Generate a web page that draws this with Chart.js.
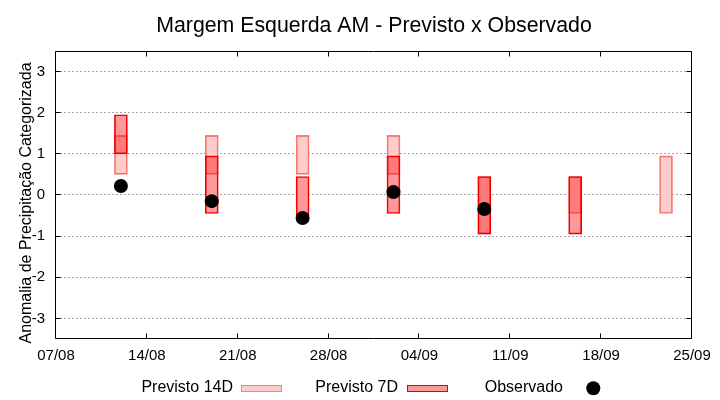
<!DOCTYPE html>
<html>
<head>
<meta charset="utf-8">
<script src="https://cdn.jsdelivr.net/npm/chart.js@4"></script>
<style>
  html, body { margin: 0; padding: 0; background: #ffffff; }
  canvas { display: block; }
</style>
</head>
<body>
<canvas id="c" width="720" height="400"></canvas>
<script>
// ---- data ----
const chartTitle = 'Margem Esquerda AM - Previsto x Observado';
const yAxisTitle = 'Anomalia de Precipitação Categorizada';
const dates = ['12/08', '19/08', '26/08', '02/09', '09/09', '16/09', '23/09'];
const prev14Low  = [0.5, 0.5, 0.5, 0.5, -0.95, -0.45, -0.45];
const prev14High = [1.45, 1.45, 1.45, 1.45, 0.45, 0.45, 0.95];
const prev7Low   = [1.0, -0.45, -0.5, -0.45, -0.95, -0.95, null];
const prev7High  = [1.95, 0.95, 0.45, 0.95, 0.45, 0.45, null];
const observed   = [0.22, -0.15, -0.56, 0.07, -0.34, null, null];
const xTickLabels = ['07/08', '14/08', '21/08', '28/08', '04/09', '11/09', '18/09', '25/09'];
const yTickValues = [-3, -2, -1, 0, 1, 2, 3];
const seriesNames = ['Previsto 14D', 'Previsto 7D', 'Observado'];

// ---- helpers ----
const FONT = '"Liberation Sans", Arial, sans-serif';
function dayIndex(s) {
  const [d, m] = s.split('/').map(Number);
  return Math.round((Date.UTC(2023, m - 1, d) - Date.UTC(2023, 7, 7)) / 864e5);
}
function ranges(lo, hi) {
  const out = [];
  dates.forEach((d, i) => { if (lo[i] !== null && hi[i] !== null) out.push({ x: dayIndex(d), y: [lo[i], hi[i]] }); });
  return out;
}
const xTickValues = xTickLabels.map(dayIndex);
const obsPoints = [];
dates.forEach((d, i) => { if (observed[i] !== null) obsPoints.push({ x: dayIndex(d), y: observed[i] }); });

const c14 = { bg: 'rgba(255,0,0,0.2)', border: 'rgb(244,128,120)' };
const c7  = { bg: 'rgba(255,0,0,0.4)', border: 'rgb(238,0,0)' };

const framePlugin = {
  id: 'frame',
  beforeDatasetsDraw(chart) {
    const { ctx, chartArea: a, scales: { y } } = chart;
    ctx.save();
    ctx.strokeStyle = 'rgb(165,165,165)';
    ctx.lineWidth = 1;
    ctx.setLineDash([2, 2]);
    y.ticks.forEach(t => {
      const py = Math.floor(y.getPixelForValue(t.value)) + 0.5;
      ctx.beginPath();
      ctx.moveTo(a.left, py);
      ctx.lineTo(a.right, py);
      ctx.stroke();
    });
    ctx.restore();
    // the boxes hide the grid behind them
    chart.data.datasets.forEach((ds, di) => {
      if (ds.type === 'scatter') return;
      chart.getDatasetMeta(di).data.forEach(el => {
        const p = el.getProps(['x', 'y', 'base', 'width'], true);
        ctx.clearRect(p.x - p.width / 2, Math.min(p.y, p.base), p.width, Math.abs(p.base - p.y));
      });
    });
  },
  afterDatasetsDraw(chart) {
    const { ctx, chartArea: a, scales: { x, y } } = chart;
    const x0 = Math.round(a.left) - 0.5, x1 = Math.round(a.right) - 0.5;
    const y0 = Math.round(a.top) + 0.5, y1 = Math.round(a.bottom) - 0.5;
    ctx.save();
    ctx.strokeStyle = '#000';
    ctx.lineWidth = 1;
    ctx.beginPath();
    ctx.rect(x0, y0, x1 - x0, y1 - y0);
    y.ticks.forEach(t => {
      const py = Math.floor(y.getPixelForValue(t.value)) + 0.5;
      ctx.moveTo(x0, py); ctx.lineTo(x0 + 5, py);
      ctx.moveTo(x1, py); ctx.lineTo(x1 - 5, py);
    });
    x.ticks.forEach(t => {
      const px = Math.round(x.getPixelForValue(t.value)) - 0.5;
      ctx.moveTo(px, y1); ctx.lineTo(px, y1 - 5);
      ctx.moveTo(px, y0); ctx.lineTo(px, y0 + 5);
    });
    ctx.stroke();
    ctx.restore();
  },
  afterDraw(chart) {
    const { ctx, chartArea: a } = chart;
    ctx.save();
    // y axis title
    ctx.fillStyle = '#000';
    ctx.font = '16px ' + FONT;
    ctx.textAlign = 'center';
    ctx.textBaseline = 'middle';
    ctx.translate(27, (a.top + a.bottom) / 2 + 8);
    ctx.rotate(-Math.PI / 2);
    ctx.fillText(yAxisTitle, 0, 0);
    ctx.restore();

    // legend (gnuplot style: text, then sample)
    ctx.save();
    ctx.font = '16px ' + FONT;
    ctx.textAlign = 'right';
    ctx.textBaseline = 'alphabetic';
    const base = 392;
    const items = [
      { text: seriesNames[0], tx: 233, sx: 241, style: c14 },
      { text: seriesNames[1], tx: 398, sx: 407, style: c7 },
      { text: seriesNames[2], tx: 563, sx: 593.3, dot: true }
    ];
    items.forEach(it => {
      ctx.fillStyle = '#000';
      ctx.fillText(it.text, it.tx, base);
      if (it.dot) {
        ctx.beginPath();
        ctx.arc(it.sx, 388.3, 7, 0, Math.PI * 2);
        ctx.fillStyle = '#000';
        ctx.fill();
      } else {
        ctx.fillStyle = it.style.bg;
        ctx.fillRect(it.sx, 385, 41, 7);
        ctx.strokeStyle = it.style.border;
        ctx.lineWidth = 1;
        ctx.strokeRect(it.sx + 0.5, 385.5, 40, 6);
      }
    });
    ctx.restore();
  }
};

new Chart(document.getElementById('c'), {
  type: 'bar',
  data: {
    datasets: [
      { type: 'scatter', label: seriesNames[2], data: obsPoints, order: 0,
        pointRadius: 7, pointHoverRadius: 7, backgroundColor: '#000', borderColor: '#000', borderWidth: 0 },
      { label: seriesNames[1], data: ranges(prev7Low, prev7High), order: 1,
        backgroundColor: c7.bg, borderColor: c7.border, borderWidth: 1, borderSkipped: false,
        barThickness: 13, grouped: false },
      { label: seriesNames[0], data: ranges(prev14Low, prev14High), order: 2,
        backgroundColor: c14.bg, borderColor: c14.border, borderWidth: 1, borderSkipped: false,
        barThickness: 13, grouped: false }
    ]
  },
  options: {
    responsive: false,
    animation: false,
    devicePixelRatio: 1,
    layout: { padding: { left: 0, right: 28, top: 0, bottom: 0 } },
    plugins: {
      legend: { display: false },
      tooltip: { enabled: false },
      title: {
        display: true, text: chartTitle, fullSize: false, color: '#000',
        font: { family: FONT, size: 21.3, weight: 'normal', lineHeight: 1.2 },
        padding: { top: 13, bottom: 12.4 }
      }
    },
    scales: {
      x: {
        type: 'linear', min: 0, max: 49, offset: false,
        grid: { display: false, offset: false, drawTicks: false },
        border: { display: false },
        afterBuildTicks: axis => { axis.ticks = xTickValues.map(v => ({ value: v })); },
        afterFit: axis => { axis.height = 61; },
        ticks: {
          autoSkip: false, maxRotation: 0, padding: 8, color: '#000',
          font: { family: FONT, size: 15 },
          callback: (v, i) => xTickLabels[i]
        }
      },
      y: {
        min: -3.5, max: 3.5,
        grid: { display: false, drawTicks: false },
        border: { display: false },
        afterBuildTicks: axis => { axis.ticks = yTickValues.map(v => ({ value: v })); },
        afterFit: axis => { axis.width = 56; },
        ticks: {
          padding: 11, color: '#000',
          font: { family: FONT, size: 15 },
          callback: v => String(v)
        }
      }
    }
  },
  plugins: [framePlugin]
});
</script>
</body>
</html>
